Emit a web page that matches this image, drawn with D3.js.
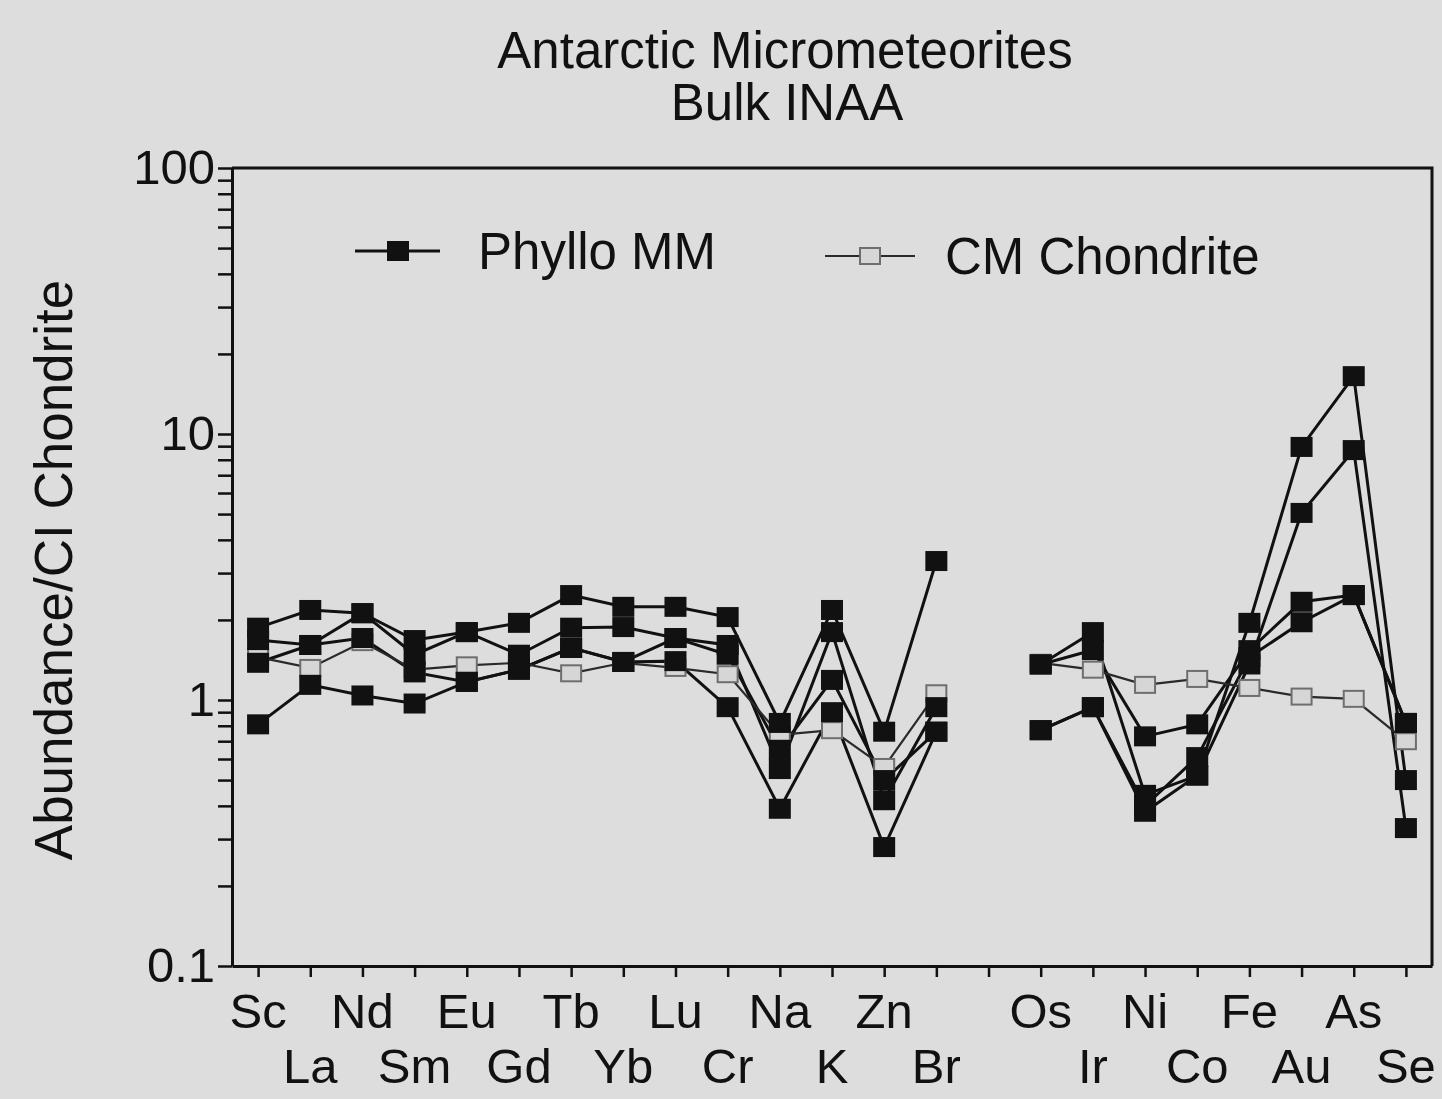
<!DOCTYPE html>
<html>
<head>
<meta charset="utf-8">
<script src="https://cdn.jsdelivr.net/npm/d3@7"></script>
<style>
  body { margin: 0; background: #dddddd; }
  svg { display: block; }
  text { font-family: "Liberation Sans", Arial, Helvetica, sans-serif; fill: #111; }
</style>
</head>
<body>
<svg id="chart"></svg>
<script>
// element order on the x axis (two groups, separated by an empty slot)
const elementsLeft = ["Sc","La","Nd","Sm","Eu","Gd","Tb","Yb","Lu","Cr","Na","K","Zn","Br"];
const elementsRight = ["Os","Ir","Ni","Co","Fe","Au","As","Se"];

// Phyllo MM samples, CI-normalised (left group then right group)
const mmA = [1.87,2.18,2.12,1.68,1.80,1.95,2.48,2.24,2.24,2.05,0.82,2.18,0.76,3.33,  1.36,1.80,0.44,0.52,1.95,8.94,16.5,0.50];
const mmB = [1.68,1.61,2.12,1.48,1.80,1.48,1.87,1.88,1.71,1.61,0.55,1.80,0.42,0.94,  1.36,1.54,0.73,0.81,1.54,2.34,2.48,0.82];
const mmC = [1.38,1.61,1.71,1.27,1.17,1.30,1.57,1.39,1.71,1.48,0.65,1.19,0.50,0.76,  0.77,0.94,0.38,0.52,1.36,5.05,8.70,0.33];
const mmD = [0.81,1.14,1.04,0.97,1.17,1.30,1.57,1.39,1.40,0.94,0.39,0.90,0.28,0.76,  0.77,0.94,0.40,0.61,1.45,1.96,2.48,0.82];
// CM chondrite reference
const cmChondrite = [1.45,1.32,1.65,1.30,1.35,1.38,1.26,1.38,1.32,1.25,0.74,0.77,0.56,1.06,  1.38,1.30,1.14,1.20,1.11,1.03,1.01,0.70];

const yTickLabels = [0.1, 1, 10, 100];

const W = 1442, H = 1099;
const svg = d3.select("#chart").attr("width", W).attr("height", H);

svg.append("rect").attr("width", W).attr("height", H).attr("fill", "#dddddd");

const plotLeft = 232, plotRight = 1432, plotTop = 168, plotBottom = 966;

const slots = [...elementsLeft, "gap", ...elementsRight];
const x = d3.scalePoint().domain(slots).range([plotLeft, plotRight]).padding(0.5);
const y = d3.scaleLog().domain([0.1, 100]).range([plotBottom, plotTop]);

function toPoints(vals) {
  const arr = [...vals.slice(0, elementsLeft.length), null, ...vals.slice(elementsLeft.length)];
  return slots.map((s, i) => ({ s: s, v: arr[i] }));
}

// frame
svg.append("path")
  .attr("d", `M${plotLeft},${plotTop}H${plotRight}V${plotBottom}`)
  .attr("fill", "none").attr("stroke", "#111").attr("stroke-width", 3);

// y axis with minor ticks
let yTicks = [];
for (let e = -1; e < 2; e++) {
  for (let m = 1; m < 10; m++) yTicks.push(m * Math.pow(10, e));
}
yTicks.push(100);
const yAxis = d3.axisLeft(y)
  .tickValues(yTicks)
  .tickSize(14)
  .tickSizeOuter(0)
  .tickPadding(3)
  .tickFormat(d => yTickLabels.includes(+d.toPrecision(3)) ? d3.format("~g")(d) : "");
const gy = svg.append("g").attr("transform", `translate(${plotLeft},0)`).call(yAxis);
gy.select(".domain").attr("stroke-width", 3).attr("stroke", "#111");
gy.selectAll(".tick line").attr("stroke-width", 2.5).attr("stroke", "#111");
gy.selectAll(".tick text").style("font-size", "49px").attr("fill", "#111");

// x axis
const xAxis = d3.axisBottom(x).tickSize(11).tickSizeOuter(0).tickFormat("");
const gx = svg.append("g").attr("transform", `translate(0,${plotBottom})`).call(xAxis);
gx.select(".domain").attr("stroke-width", 3).attr("stroke", "#111");
gx.selectAll(".tick line").attr("stroke-width", 2.5).attr("stroke", "#111");

// staggered element labels
[elementsLeft, elementsRight].forEach(group => {
  group.forEach((el, i) => {
    svg.append("text")
      .attr("x", x(el))
      .attr("y", i % 2 === 0 ? 1028 : 1083)
      .attr("text-anchor", "middle")
      .style("font-size", "49px")
      .text(el);
  });
});

// titles
svg.append("text").attr("x", 785).attr("y", 68).attr("text-anchor", "middle")
  .style("font-size", "51px").text("Antarctic Micrometeorites");
svg.append("text").attr("x", 787).attr("y", 120).attr("text-anchor", "middle")
  .style("font-size", "51px").text("Bulk INAA");
svg.append("text")
  .attr("transform", "translate(72,570) rotate(-90)")
  .attr("text-anchor", "middle")
  .style("font-size", "53px")
  .text("Abundance/CI Chondrite");

const line = d3.line()
  .defined(d => d.v != null)
  .x(d => x(d.s))
  .y(d => y(d.v));

const mmSeries = [mmA, mmB, mmC, mmD].map(toPoints);
const cmPoints = toPoints(cmChondrite);

// lines
mmSeries.forEach(pts => {
  svg.append("path").datum(pts).attr("d", line)
    .attr("fill", "none").attr("stroke", "#111").attr("stroke-width", 3);
});
svg.append("path").datum(cmPoints).attr("d", line)
  .attr("fill", "none").attr("stroke", "#2a2a2a").attr("stroke-width", 2.2);

// markers
function openSquare(g, cx, cy) {
  g.append("rect").attr("x", cx - 10).attr("y", cy - 8).attr("width", 20).attr("height", 16)
    .attr("fill", "#d6d6d6").attr("stroke", "#6e6e6e").attr("stroke-width", 2);
}
function filledSquare(g, cx, cy) {
  g.append("rect").attr("x", cx - 11).attr("y", cy - 10).attr("width", 22).attr("height", 20)
    .attr("fill", "#111");
}
const gm = svg.append("g");
cmPoints.filter(d => d.v != null).forEach(d => openSquare(gm, x(d.s), y(d.v)));
mmSeries.forEach(pts => {
  pts.filter(d => d.v != null).forEach(d => filledSquare(gm, x(d.s), y(d.v)));
});

// legend
const lg = svg.append("g");
lg.append("line").attr("x1", 355).attr("x2", 440).attr("y1", 251).attr("y2", 251)
  .attr("stroke", "#111").attr("stroke-width", 3);
filledSquare(lg, 398, 251);
lg.append("text").attr("x", 478).attr("y", 251).attr("dy", "0.36em")
  .style("font-size", "51px").text("Phyllo MM");
lg.append("line").attr("x1", 825).attr("x2", 915).attr("y1", 256).attr("y2", 256)
  .attr("stroke", "#2a2a2a").attr("stroke-width", 2.2);
openSquare(lg, 870, 256);
lg.append("text").attr("x", 945).attr("y", 256).attr("dy", "0.36em")
  .style("font-size", "51px").text("CM Chondrite");
</script>
</body>
</html>
